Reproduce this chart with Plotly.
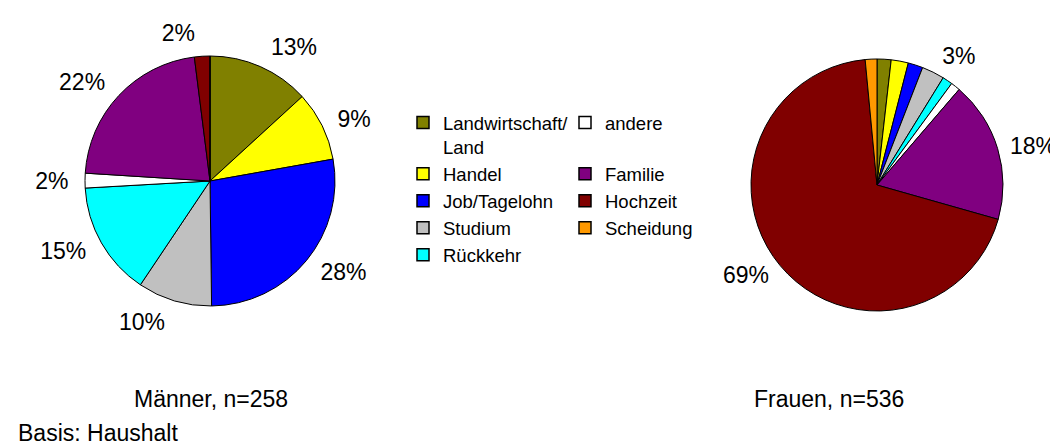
import plotly.graph_objects as go

# ---- data ----
categories = ["Landwirtschaft/<br>Land", "Handel", "Job/Tagelohn", "Studium", "Rückkehr",
              "andere", "Familie", "Hochzeit", "Scheidung"]
colors = ["#808000", "#FFFF00", "#0000FF", "#C0C0C0", "#00FFFF",
          "#FFFFFF", "#800080", "#800000", "#FF9900"]
maenner_values = [13.2, 9.0, 27.6, 9.6, 14.7, 1.9, 22.0, 2.0, 0.0]
frauen_values = [1.8, 2.2, 1.9, 2.9, 1.3, 1.2, 18.1, 69.1, 1.5]
frauen_show_label = [False, False, False, True, False, False, True, True, False]
maenner_title = "Männer, n=258"
frauen_title = "Frauen, n=536"
basis_text = "Basis: Haushalt"
legend_col1 = [0, 1, 2, 3, 4]
legend_col2 = [5, 6, 7, 8]

FONT = "Liberation Sans, Arial, sans-serif"
W, H = 1058, 445


def px_domain(cx, cy, r):
    return dict(x=[(cx - r) / W, (cx + r) / W], y=[1 - (cy + r) / H, 1 - (cy - r) / H])


def add_pie(fig, values, show, cx, cy, r, label_r):
    # visible pie
    fig.add_trace(go.Pie(
        labels=categories, values=values, sort=False, direction="clockwise", rotation=0,
        marker=dict(colors=colors, line=dict(color="black", width=1)),
        textinfo="none", domain=px_domain(cx, cy, r), showlegend=False,
        hoverinfo="label+percent", automargin=False,
    ))
    # transparent companion pie, slightly larger, only carrying the outside labels
    fig.add_trace(go.Pie(
        labels=categories, values=values, sort=False, direction="clockwise", rotation=0,
        marker=dict(colors=["rgba(0,0,0,0)"] * len(values), line=dict(width=0)),
        texttemplate=["%{percent:.0%}" if s else "" for s in show],
        textposition="outside", textfont=dict(family=FONT, size=23, color="black"),
        domain=px_domain(cx, cy, label_r), showlegend=False, hoverinfo="skip",
        automargin=False,
    ))


fig = go.Figure()
add_pie(fig, maenner_values, [v > 0 for v in maenner_values], 202, 173, 125, 135)
add_pie(fig, frauen_values, frauen_show_label, 869, 177, 126, 132)

for i in legend_col1 + legend_col2:
    name = categories[i]
    leg = "legend" if i in legend_col1 else "legend2"
    if name == "andere":
        name = "andere<br>\u00a0"
    fig.add_trace(go.Scatter(
        x=[None], y=[None], mode="markers", name=name, legend=leg,
        marker=dict(symbol="square", size=12, color=colors[i], line=dict(color="black", width=1.5)),
        hoverinfo="skip",
    ))

legend_common = dict(font=dict(family=FONT, size=18.5, color="black"), valign="top",
                     bgcolor="rgba(0,0,0,0)", borderwidth=0, xanchor="left", yanchor="top",
                     tracegroupgap=0, orientation="v", traceorder="normal")

fig.update_layout(
    width=W, height=H,
    margin=dict(l=0, r=0, t=0, b=0),
    paper_bgcolor="white", plot_bgcolor="white",
    font=dict(family=FONT, color="black"),
    xaxis=dict(visible=False), yaxis=dict(visible=False),
    legend=dict(x=395 / W, y=1 - 96 / H, **legend_common),
    legend2=dict(x=557 / W, y=1 - 96 / H, **legend_common),
    annotations=[
        dict(text=maenner_title, x=203 / W, y=1 - 391 / H, xref="paper", yref="paper",
             showarrow=False, xanchor="center", yanchor="middle",
             font=dict(family=FONT, size=23, color="black")),
        dict(text=frauen_title, x=821 / W, y=1 - 391 / H, xref="paper", yref="paper",
             showarrow=False, xanchor="center", yanchor="middle",
             font=dict(family=FONT, size=23, color="black")),
        dict(text=basis_text, x=8 / W, y=1 - 425 / H, xref="paper", yref="paper",
             showarrow=False, xanchor="left", yanchor="middle",
             font=dict(family=FONT, size=23, color="black")),
    ],
)

fig.write_html("out.html")
